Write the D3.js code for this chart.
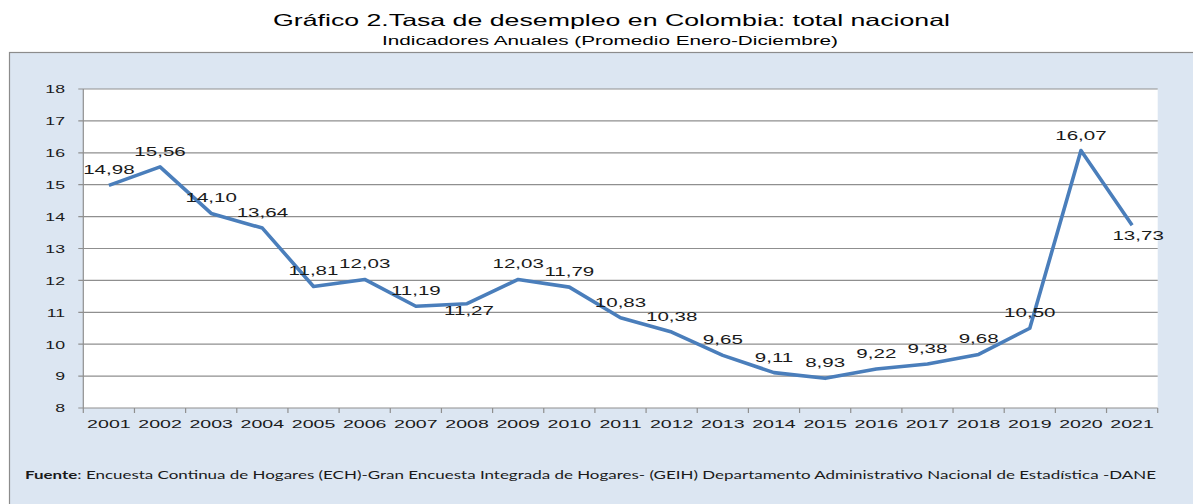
<!DOCTYPE html>
<html>
<head>
<meta charset="utf-8">
<script src="https://cdn.jsdelivr.net/npm/d3@7"></script>
<style>
  html, body { margin: 0; padding: 0; background: #ffffff; }
  svg { display: block; }
</style>
</head>
<body>
<svg id="chart" width="1193" height="504"></svg>
<script>
const title = "Gráfico 2.Tasa de desempleo en Colombia: total nacional";
const subtitle = "Indicadores Anuales (Promedio Enero-Diciembre)";
const sourceLabel = "Fuente";
const sourceText = ": Encuesta Continua de Hogares (ECH)-Gran Encuesta Integrada de Hogares- (GEIH) Departamento Administrativo Nacional de Estadística -DANE";
const years = ["2001","2002","2003","2004","2005","2006","2007","2008","2009","2010","2011","2012","2013","2014","2015","2016","2017","2018","2019","2020","2021"];
const rates = [14.98,15.56,14.10,13.64,11.81,12.03,11.19,11.27,12.03,11.79,10.83,10.38,9.65,9.11,8.93,9.22,9.38,9.68,10.50,16.07,13.73];
const yTicks = [8,9,10,11,12,13,14,15,16,17,18];

const svg = d3.select("#chart");
const fmt = v => v.toFixed(2).replace(".", ",");

const plot = {left: 83.3, right: 1157.7, top: 89, bottom: 408};

// panel background
svg.append("rect")
  .attr("x", 9.5).attr("y", 52.5)
  .attr("width", 1200).attr("height", 470)
  .attr("fill", "#dce6f2").attr("stroke", "#8c8c8c").attr("stroke-width", 1.2);

// titles
svg.append("text")
  .attr("x", 273).attr("y", 26)
  .attr("textLength", 677).attr("lengthAdjust", "spacingAndGlyphs")
  .style("font-family", "Liberation Sans, Arial, sans-serif")
  .style("font-size", "16.5px").attr("fill", "#000")
  .text(title);
svg.append("text")
  .attr("x", 382).attr("y", 44.5)
  .attr("textLength", 456).attr("lengthAdjust", "spacingAndGlyphs")
  .style("font-family", "Liberation Sans, Arial, sans-serif")
  .style("font-size", "12.5px").attr("fill", "#000")
  .text(subtitle);

const x = d3.scaleBand().domain(years).range([plot.left, plot.right]).padding(0);
const y = d3.scaleLinear().domain([8, 18]).range([plot.bottom, plot.top]);

// plot area
svg.append("rect")
  .attr("x", plot.left).attr("y", plot.top)
  .attr("width", plot.right - plot.left).attr("height", plot.bottom - plot.top)
  .attr("fill", "#ffffff");

// gridlines
svg.append("g").selectAll("line").data(yTicks).join("line")
  .attr("x1", plot.left - 5).attr("x2", plot.right)
  .attr("y1", d => y(d)).attr("y2", d => y(d))
  .attr("stroke", "#8f8f8f").attr("stroke-width", 1.2);

// y axis line
svg.append("line")
  .attr("x1", plot.left).attr("x2", plot.left)
  .attr("y1", plot.top).attr("y2", plot.bottom)
  .attr("stroke", "#8f8f8f").attr("stroke-width", 1.2);

// x tick marks at category boundaries
const bounds = years.map(d => x(d)).concat([x(years[years.length - 1]) + x.bandwidth()]);
svg.append("g").selectAll("line").data(bounds).join("line")
  .attr("x1", d => d).attr("x2", d => d)
  .attr("y1", plot.bottom).attr("y2", plot.bottom + 5)
  .attr("stroke", "#8f8f8f").attr("stroke-width", 1.2);

// y tick labels
svg.append("g").selectAll("text").data(yTicks).join("text")
  .attr("transform", d => `translate(65,${y(d) + 4.3}) scale(1.5,1)`)
  .attr("text-anchor", "end")
  .style("font-family", "Liberation Sans, Arial, sans-serif")
  .style("font-size", "11.8px").attr("fill", "#1a1a1a")
  .text(d => d);

// x labels
svg.append("g").selectAll("text").data(years).join("text")
  .attr("transform", d => `translate(${x(d) + x.bandwidth() / 2},${427.5}) scale(1.66,1)`)
  .attr("text-anchor", "middle")
  .style("font-family", "Liberation Sans, Arial, sans-serif")
  .style("font-size", "11.8px").attr("fill", "#1a1a1a")
  .text(d => d);

// line
const pts = years.map((yr, i) => ({yr, v: rates[i]}));
const line = d3.line().x(d => x(d.yr) + x.bandwidth() / 2).y(d => y(d.v));
svg.append("path").datum(pts)
  .attr("d", line)
  .attr("fill", "none").attr("stroke", "#4a7ebb")
  .attr("stroke-width", 3.6).attr("stroke-linejoin", "round");

// data labels
const belowLabel = {"2008": {dx: 2, dy: 11.5}, "2021": {dx: 6, dy: 14.5}};
svg.append("g").selectAll("text").data(pts).join("text")
  .attr("transform", d => {
    const off = belowLabel[d.yr] || {dx: 0, dy: -11};
    const cx = x(d.yr) + x.bandwidth() / 2 + off.dx;
    return `translate(${cx},${y(d.v) + off.dy}) scale(1.58,1)`;
  })
  .attr("text-anchor", "middle")
  .style("font-family", "Liberation Sans, Arial, sans-serif")
  .style("font-size", "13px").attr("fill", "#1a1a1a")
  .text(d => fmt(d.v));

// footer
const foot = svg.append("text")
  .attr("x", 25).attr("y", 479)
  .attr("textLength", 1131).attr("lengthAdjust", "spacingAndGlyphs")
  .style("font-family", "Lato, 'Open Sans', sans-serif")
  .style("font-size", "12px").attr("fill", "#1a1a1a");
foot.append("tspan").style("font-weight", "bold").text(sourceLabel);
foot.append("tspan").text(sourceText);
</script>
</body>
</html>
